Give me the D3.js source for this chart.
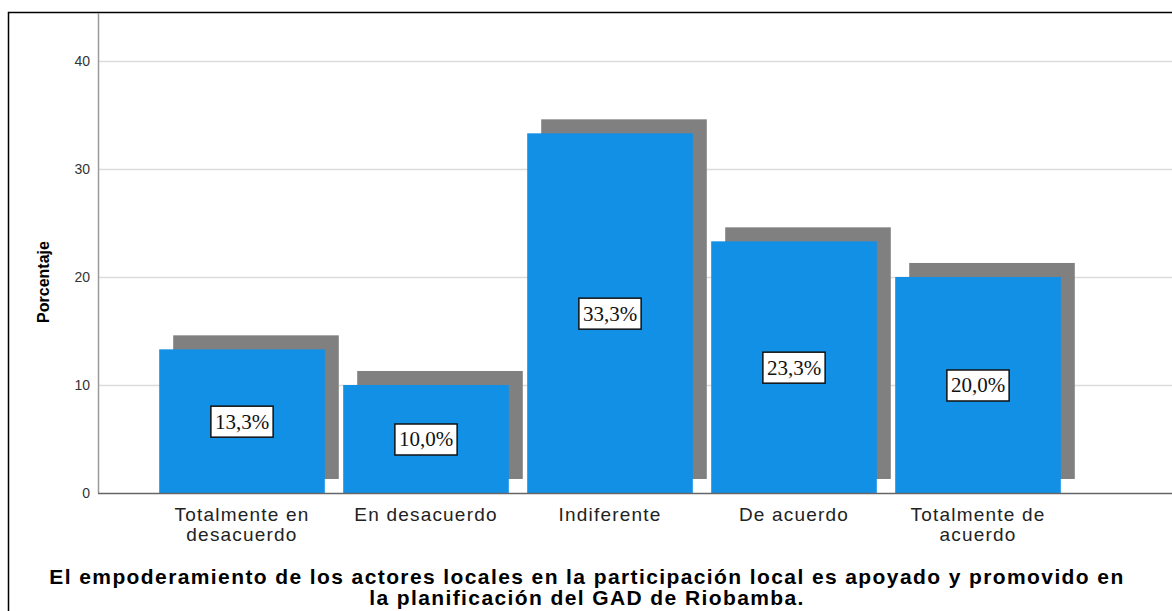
<!DOCTYPE html>
<html>
<head>
<meta charset="utf-8">
<script src="https://cdn.jsdelivr.net/npm/d3@7"></script>
<style>
  body { margin: 0; background: #fff; }
  svg { display: block; }
</style>
</head>
<body>
<div id="chart"></div>
<script>
// data
var categories = ["Totalmente en desacuerdo", "En desacuerdo", "Indiferente", "De acuerdo", "Totalmente de acuerdo"];
var categoryLines = [["Totalmente en", "desacuerdo"], ["En desacuerdo"], ["Indiferente"], ["De acuerdo"], ["Totalmente de", "acuerdo"]];
var percentages = [13.3, 10.0, 33.3, 23.3, 20.0];
var yTicks = [0, 10, 20, 30, 40];
var titleLines = ["El empoderamiento de los actores locales en la participación local es apoyado y promovido en",
                  "la planificación del GAD de Riobamba."];
var yTitle = "Porcentaje";

function drawChart(divName) {
    var width = 1172, height = 611;
    var blue = "#1190e6", shadow = "#808080";

    var svg = d3.select('#' + divName)
        .append('svg')
        .attr('width', width)
        .attr('height', height);

    // outer frame
    svg.append("rect")
        .attr("x", 8.5).attr("y", 12.5)
        .attr("width", width + 10).attr("height", height + 10)
        .style("fill", "none")
        .style("stroke", "#000")
        .style("stroke-width", 1.5);

    var axisX = 98, baseY = 493, topY = 13;

    var x = d3.scaleBand()
        .domain(categories)
        .range([150, 1070])
        .paddingInner(0.1)
        .paddingOuter(0.05);

    var y = d3.scaleLinear()
        .domain([0, 44.44])
        .range([baseY, topY]);

    // gridlines
    svg.append("g")
        .selectAll("line")
        .data(yTicks.filter(function (d) { return d > 0; }))
        .enter().append("line")
        .attr("x1", axisX).attr("x2", width)
        .attr("y1", function (d) { return y(d) + 0.5; })
        .attr("y2", function (d) { return y(d) + 0.5; })
        .style("stroke", "#dcdcdc")
        .style("stroke-width", 1.5);

    // y axis
    var yAxis = svg.append("g")
        .attr("transform", "translate(" + axisX + ",0)")
        .call(d3.axisLeft(y).tickValues(yTicks).tickSize(0).tickPadding(8));
    yAxis.select(".domain").remove();
    yAxis.selectAll("text")
        .style("font-family", "Liberation Sans, Arial, sans-serif")
        .style("font-size", "14px")
        .style("fill", "#333");
    svg.append("line")
        .attr("x1", axisX + 0.5).attr("x2", axisX + 0.5)
        .attr("y1", topY).attr("y2", baseY)
        .style("stroke", "#9a9a9a")
        .style("stroke-width", 1.5);

    var bars = svg.append("g");

    // shadow bars (offset up and to the right)
    bars.selectAll(".shadow")
        .data(percentages)
        .enter().append("rect")
        .attr("class", "shadow")
        .attr("x", function (d, i) { return x(categories[i]) + 14; })
        .attr("y", function (d) { return y(d) - 14; })
        .attr("width", x.bandwidth())
        .attr("height", function (d) { return baseY - y(d); })
        .style("fill", shadow);

    bars.selectAll(".bar")
        .data(percentages)
        .enter().append("rect")
        .attr("class", "bar")
        .attr("x", function (d, i) { return x(categories[i]); })
        .attr("y", function (d) { return y(d); })
        .attr("width", x.bandwidth())
        .attr("height", function (d) { return baseY - y(d); })
        .style("fill", blue);

    // x axis line
    svg.append("line")
        .attr("x1", axisX).attr("x2", width)
        .attr("y1", baseY + 0.5).attr("y2", baseY + 0.5)
        .style("stroke", "#666")
        .style("stroke-width", 1.5);

    // value labels in boxes
    var labels = svg.append("g");
    percentages.forEach(function (d, i) {
        var cx = x(categories[i]) + x.bandwidth() / 2;
        var cy = y(d / 2);
        var g = labels.append("g");
        var t = g.append("text")
            .attr("x", cx)
            .attr("y", cy)
            .attr("dy", "0.35em")
            .attr("text-anchor", "middle")
            .style("font-family", "Liberation Serif, Times New Roman, serif")
            .style("font-size", "21px")
            .style("fill", "#111")
            .text(d.toFixed(1).replace(".", ",") + "%");
        var bb = t.node().getBBox();
        g.insert("rect", "text")
            .attr("x", cx - bb.width / 2 - 4)
            .attr("y", cy - 15)
            .attr("width", bb.width + 8)
            .attr("height", 31)
            .style("fill", "#fff")
            .style("stroke", "#111")
            .style("stroke-width", 1.5);
    });

    // category labels
    var cat = svg.append("g");
    categoryLines.forEach(function (lines, i) {
        var cx = x(categories[i]) + x.bandwidth() / 2;
        var t = cat.append("text")
            .attr("x", cx)
            .attr("y", 521)
            .attr("text-anchor", "middle")
            .style("font-family", "Liberation Sans, Arial, sans-serif")
            .style("font-size", "19px")
            .style("letter-spacing", "1.2px")
            .style("fill", "#222");
        lines.forEach(function (l, j) {
            t.append("tspan")
                .attr("x", cx)
                .attr("dy", j == 0 ? 0 : 20)
                .text(l);
        });
    });

    // x title
    var title = svg.append("text")
        .attr("x", 587)
        .attr("y", 584)
        .attr("text-anchor", "middle")
        .style("font-family", "Liberation Sans, Arial, sans-serif")
        .style("font-weight", "bold")
        .style("font-size", "21px")
        .style("letter-spacing", "1.4px")
        .style("fill", "#000");
    titleLines.forEach(function (l, j) {
        title.append("tspan")
            .attr("x", 587)
            .attr("dy", j == 0 ? 0 : 21)
            .text(l);
    });

    // y title
    svg.append("text")
        .attr("transform", "translate(49,282) rotate(-90)")
        .attr("text-anchor", "middle")
        .style("font-family", "Liberation Sans, Arial, sans-serif")
        .style("font-weight", "bold")
        .style("font-size", "16px")
        .style("fill", "#000")
        .text(yTitle);
}

drawChart("chart");
</script>
</body>
</html>
